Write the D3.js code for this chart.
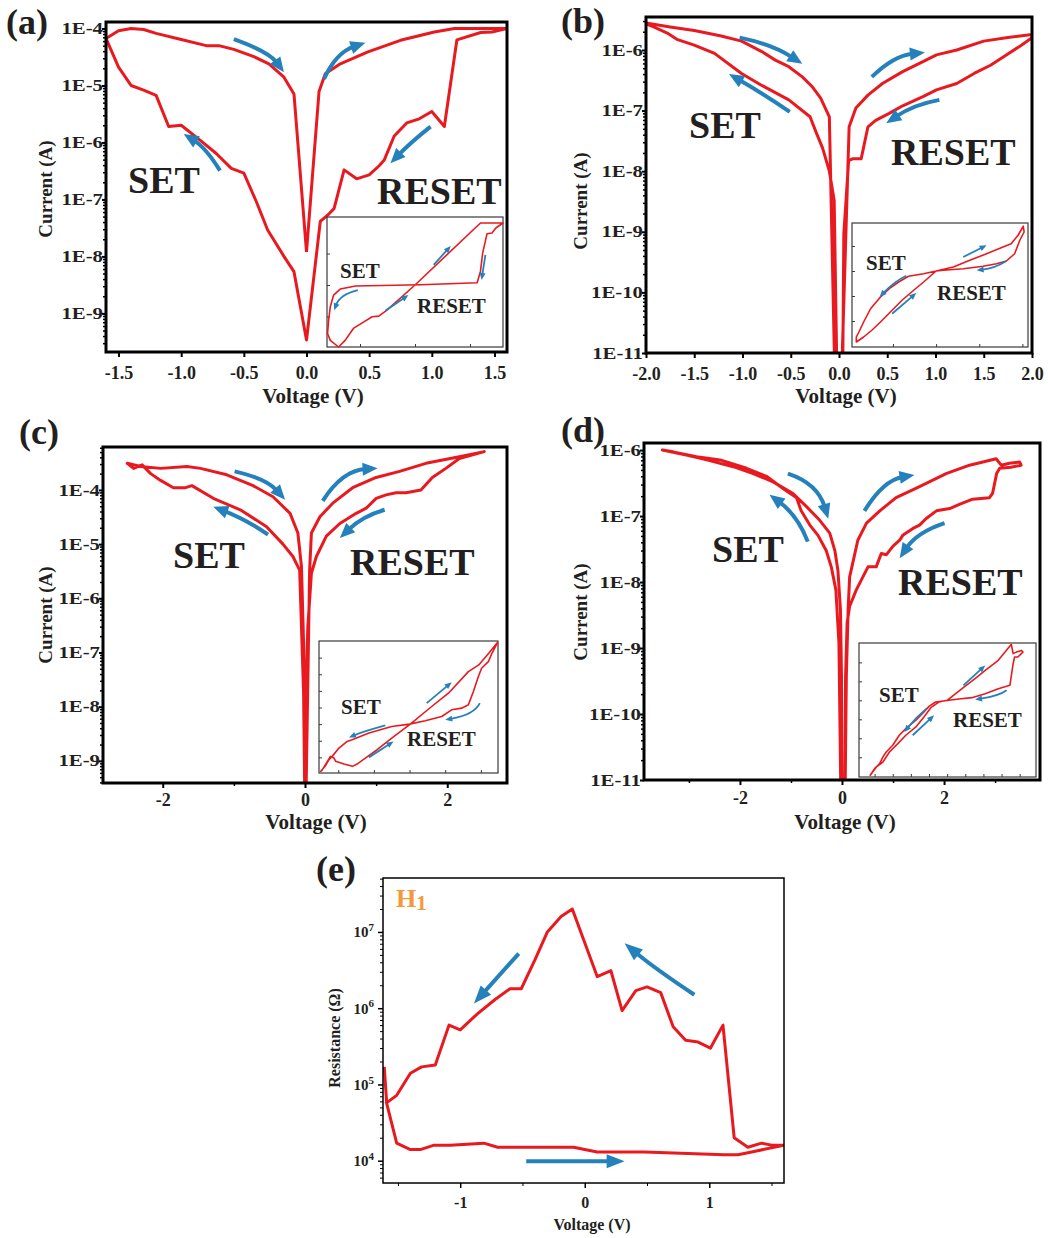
<!DOCTYPE html>
<html>
<head>
<meta charset="utf-8">
<script src="https://cdn.jsdelivr.net/npm/d3@7"></script>
<style>
  body { margin: 0; background: #fff; }
  svg text { font-family: "Liberation Serif", "Times New Roman", serif; font-weight: bold; fill: #231f20; }
</style>
</head>
<body>
<svg id="fig" width="1048" height="1238"></svg>
<script>
// ---- values ----
// (a) I-V loop, log current
let aVolt = [0, 0.1, 0.15, 0.27, 0.49, 0.75, 1.02, 1.18, 1.6,
  1.48, 1.39, 1.2, 1.1, 1.0, 0.9, 0.8, 0.7, 0.62, 0.58, 0.5, 0.4, 0.3, 0.22, 0.18, 0.11, 0,
  -0.1, -0.18, -0.31, -0.4, -0.5, -0.6, -0.72, -0.85, -1.0, -1.1, -1.2, -1.3, -1.4, -1.5, -1.6,
  -1.5, -1.4, -1.3, -1.2, -1.0, -0.8, -0.7, -0.58, -0.42, -0.3, -0.18, -0.1, 0];
let aCurr = [1.2e-8, 7.8e-6, 1.6e-5, 2.4e-5, 3.9e-5, 6.2e-5, 8.7e-5, 1.0e-4, 1.0e-4,
  8.7e-5, 8.5e-5, 6.3e-5, 1.9e-6, 3.5e-6, 2.6e-6, 2.2e-6, 1.3e-6, 4.9e-7, 3.9e-7, 2.7e-7, 2.3e-7, 3.3e-7, 6.9e-8, 5.6e-8, 4.1e-8, 3.4e-10,
  5.4e-9, 1.0e-8, 2.9e-8, 9.1e-8, 2.9e-7, 3.5e-7, 6.4e-7, 1.1e-6, 2.0e-6, 1.9e-6, 6.7e-6, 8.3e-6, 1.0e-5, 2.1e-5, 6.7e-5,
  9.1e-5, 1.0e-4, 9.6e-5, 8.2e-5, 6.4e-5, 5.0e-5, 5.0e-5, 4.3e-5, 3.2e-5, 2.4e-5, 1.4e-5, 7.1e-6, 1.2e-8];
let aXTicks = [-1.5, -1.0, -0.5, 0, 0.5, 1.0, 1.5];
let aYTicks = [1e-9, 1e-8, 1e-7, 1e-6, 1e-5, 1e-4];
let aArrows = [
  [[-0.58, 6.5e-5], [-0.34, 3.6e-5], [-0.18, 1.7e-5]],
  [[0.14, 1.3e-5], [0.27, 3.2e-5], [0.47, 5.6e-5]],
  [[0.99, 1.9e-6], [0.83, 9.5e-7], [0.67, 4.3e-7]],
  [[-0.69, 3.2e-7], [-0.82, 7.4e-7], [-0.98, 1.4e-6]]];
// (a) inset, linear units
let aInVolt = [0, 1.19, 1.6, 1.47, 1.40, 1.31, 1.23, 1.19, 1.13, 0.10, -1.08, -1.36, -1.48, -1.54, -1.57, -1.59, -1.54, -1.39, -1.27, -1.12, -0.93, -0.78, -0.66, -0.51, 0];
let aInCurr = [0, 1.97, 1.97, 1.81, 1.65, 1.63, 1.01, 0.43, 0.07, 0.01, -0.03, -0.13, -0.32, -0.69, -1.12, -1.54, -1.76, -1.97, -1.76, -1.38, -1.17, -1.01, -0.99, -0.80, 0];
let aInArrows = [
  [[0.34, 0.64], [0.65, 1.24]],
  [[-0.54, -0.82], [-0.12, -0.32]],
  [[1.28, 0.96], [1.21, 0.16]],
  [[-1.04, -0.16], [-1.31, -0.39], [-1.47, -0.80]]];

// (b)
let bVolt = [0.015, 0.105, 0.175, 0.30, 0.45, 0.66, 0.87, 1.01, 1.22, 1.50, 1.75, 2.0,
  2.0, 1.89, 1.71, 1.57, 1.40, 1.22, 1.01, 0.87, 0.66, 0.52, 0.38, 0.30, 0.23, 0.14, 0.10, 0.05, 0.035,
  -0.015, -0.05, -0.10, -0.17, -0.24, -0.30, -0.52, -0.8, -1.01, -1.29, -1.5, -1.68, -1.78, -1.92, -2.0,
  -2.0, -1.75, -1.5, -1.22, -1.01, -0.80, -0.66, -0.52, -0.38, -0.28, -0.19, -0.10, -0.035];
let bCurr = [1e-12, 5.4e-8, 1.1e-7, 1.8e-7, 2.8e-7, 4.4e-7, 6.4e-7, 8.3e-7, 1.0e-6, 1.4e-6, 1.6e-6, 1.8e-6,
  1.6e-6, 1.2e-6, 7.8e-7, 5.6e-7, 4.1e-7, 2.8e-7, 2.2e-7, 1.7e-7, 1.2e-7, 9.0e-8, 6.9e-8, 5.4e-8, 1.6e-8, 1.6e-8, 1.5e-8, 9.3e-10, 1e-12,
  1e-12, 3.3e-9, 1.0e-8, 2.4e-8, 4.5e-8, 7.9e-8, 1.5e-7, 2.6e-7, 4.1e-7, 8.8e-7, 1.2e-6, 1.5e-6, 1.9e-6, 2.4e-6, 2.7e-6,
  2.8e-6, 2.4e-6, 2.1e-6, 1.7e-6, 1.4e-6, 9.4e-7, 6.8e-7, 5.3e-7, 3.6e-7, 2.5e-7, 1.6e-7, 7.9e-8, 1e-12];
let bXTicks = [-2.0, -1.5, -1.0, -0.5, 0, 0.5, 1.0, 1.5, 2.0];
let bYTicks = [1e-11, 1e-10, 1e-9, 1e-8, 1e-7, 1e-6];
let bArrows = [
  [[-1.03, 1.6e-6], [-0.70, 1.1e-6], [-0.38, 5.9e-7]],
  [[0.34, 3.6e-7], [0.59, 6.8e-7], [0.89, 9.1e-7]],
  [[1.04, 1.5e-7], [0.77, 1.1e-7], [0.49, 6.2e-8]],
  [[-0.51, 9.5e-8], [-0.80, 1.9e-7], [-1.14, 4.0e-7]]];
let bInVolt = [0, 0.4, 0.78, 1.17, 1.55, 1.74, 1.9, 2.02, 2.04, 1.94, 1.82, 1.63, 1.4, 1.09, 0.63, 0.17, 0,
  -0.29, -0.64, -0.87, -1.06, -1.29, -1.52, -1.68, -1.79, -1.85, -1.85, -1.68, -1.49, -1.29, -1.02, -0.79, -0.52, -0.29, 0];
let bInCurr = [0, 0.16, 0.43, 0.69, 0.96, 1.09, 1.43, 1.79, 1.56, 1.23, 0.69, 0.4, 0.29, 0.19, 0.09, 0.03, 0,
  -0.11, -0.21, -0.44, -0.67, -1.04, -1.51, -2.04, -2.44, -2.64, -2.84, -2.64, -2.37, -2.04, -1.57, -1.17, -0.77, -0.44, 0];
let bInArrows = [
  [[0.63, 0.56], [1.17, 1.03]],
  [[1.63, 0.4], [1.32, 0.16], [0.94, 0.03]],
  [[-0.69, -0.19], [-0.98, -0.51], [-1.31, -1.04]],
  [[-1.02, -1.71], [-0.46, -0.88]]];

// (c)
let cVolt = [0.01, 0.065, 0.09, 0.21, 0.39, 0.67, 1.0, 1.33, 1.70, 2.17, 2.52,
  2.17, 1.98, 1.79, 1.63, 1.42, 1.28, 1.14, 1.0, 0.86, 0.72, 0.49, 0.30, 0.16, 0.09, 0.04, 0.01, 0,
  -0.02, -0.075, -0.17, -0.31, -0.54, -0.91, -1.29, -1.59, -1.68, -1.85, -2.03, -2.17, -2.29, -2.41, -2.5,
  -2.31, -2.03, -1.66, -1.47, -1.10, -0.73, -0.45, -0.21, -0.10, -0.05, -0.02, 0];
let cCurr = [1e-10, 3.3e-6, 1.6e-5, 3.2e-5, 5.7e-5, 1.1e-4, 1.7e-4, 2.2e-4, 3.1e-4, 4.1e-4, 5.1e-4,
  3.8e-4, 2.5e-4, 1.7e-4, 1.0e-4, 8.9e-5, 8.9e-5, 8.1e-5, 7.0e-5, 4.6e-5, 3.7e-5, 2.4e-5, 1.4e-5, 5.9e-6, 2.9e-6, 3.0e-7, 1.8e-8, 1e-10,
  1.8e-8, 3.3e-6, 5.9e-6, 1.0e-5, 2.1e-5, 4.3e-5, 7.0e-5, 1.2e-4, 1.1e-4, 1.1e-4, 1.5e-4, 2.0e-4, 2.9e-4, 2.5e-4, 3.1e-4,
  2.7e-4, 2.5e-4, 2.7e-4, 2.5e-4, 1.9e-4, 1.2e-4, 7.5e-5, 3.7e-5, 1.6e-5, 3.9e-6, 1.5e-7, 1e-10];
let cXTicks = [-2, 0, 2];
let cXMinor = [-1, 1];
let cYTicks = [1e-9, 1e-8, 1e-7, 1e-6, 1e-5, 1e-4];
let cArrows = [
  [[-0.99, 2.2e-4], [-0.59, 1.4e-4], [-0.28, 6.6e-5]],
  [[0.25, 6.3e-5], [0.58, 1.7e-4], [1.02, 2.5e-4]],
  [[1.12, 4.3e-5], [0.81, 2.8e-5], [0.49, 1.3e-5]],
  [[-0.52, 1.5e-5], [-0.87, 2.8e-5], [-1.29, 4.9e-5]]];
let cInVolt = [0.02, 0.62, 1.09, 1.65, 1.94, 2.22, 2.47, 2.31, 2.21, 2.02, 1.93, 1.79, 1.65, 1.46, 1.18, 0.9, 0.44, 0,
  -0.5, -1.14, -1.61, -1.75, -1.98, -2.17, -2.26, -2.37, -2.49,
  -2.46, -2.36, -2.22, -2.12, -2.07, -1.84, -1.6, -1.47, -1.24, -0.91, -0.5, 0.02];
let cInCurr = [0, 0.53, 0.93, 1.58, 1.78, 2.13, 2.46, 2.13, 1.88, 1.68, 1.43, 0.98, 0.58, 0.48, 0.43, 0.23, 0.1, 0,
  -0.07, -0.27, -0.47, -0.52, -0.72, -0.97, -1.07, -1.27, -1.42,
  -1.4, -1.22, -0.97, -1.02, -1.12, -1.2, -1.27, -1.2, -1.02, -0.77, -0.42, 0];
let cInArrows = [
  [[0.48, 0.63], [1.18, 1.26]],
  [[1.97, 0.63], [1.65, 0.33], [1.0, 0.13]],
  [[-0.68, -0.04], [-1.24, -0.22], [-1.70, -0.40]],
  [[-1.14, -1.0], [-0.45, -0.52]]];

// (d)
let dVolt = [0.05, 0.085, 0.12, 0.15, 0.31, 0.48, 0.74, 1.06, 1.52, 2.04, 2.50, 3.02, 3.12, 3.28, 3.48, 3.51, 3.31, 3.09,
  3.03, 2.95, 2.89, 2.56, 2.30, 2.11, 1.85, 1.65, 1.52, 1.39, 1.19, 1.13, 1.0, 0.87, 0.77, 0.67, 0.51, 0.41, 0.28, 0.15, 0.10, 0.07, 0.045,
  -0.01, -0.06, -0.12, -0.21, -0.31, -0.47, -0.63, -0.80, -0.89, -1.15, -1.48, -1.87, -2.39, -2.85, -3.31, -3.52,
  -3.05, -2.65, -2.13, -1.74, -1.35, -0.96, -0.70, -0.44, -0.24, -0.14, -0.08, -0.03, -0.01, 0.0];
let dCurr = [1e-12, 3.7e-10, 3.8e-9, 1.2e-8, 4.3e-8, 7.8e-8, 1.2e-7, 1.9e-7, 2.8e-7, 4.4e-7, 5.9e-7, 7.4e-7, 5.9e-7, 6.3e-7, 6.6e-7, 5.9e-7, 5.5e-7, 5.3e-7,
  4.4e-7, 2.2e-7, 1.9e-7, 1.8e-7, 1.5e-7, 1.3e-7, 1.2e-7, 9.2e-8, 7.3e-8, 6.5e-8, 5.1e-8, 4.3e-8, 3.5e-8, 2.6e-8, 2.7e-8, 1.7e-8, 1.7e-8, 1.2e-8, 7.6e-9, 4.3e-9, 2.4e-9, 3.7e-10, 1e-12,
  1e-12, 1.2e-9, 7.6e-9, 1.7e-8, 3.0e-8, 5.1e-8, 7.3e-8, 1.2e-7, 1.9e-7, 2.6e-7, 4.0e-7, 5.3e-7, 7.1e-7, 7.9e-7, 9.4e-7, 1.0e-6,
  8.4e-7, 7.1e-7, 5.6e-7, 4.4e-7, 3.3e-7, 2.2e-7, 1.4e-7, 8.7e-8, 5.5e-8, 3.0e-8, 1.5e-8, 3.8e-9, 3.7e-10, 1e-12];
let dXTicks = [-2, 0, 2];
let dXMinor = [-3, -1, 1, 3];
let dYTicks = [1e-11, 1e-10, 1e-9, 1e-8, 1e-7, 1e-6];
let dArrows = [
  [[-1.06, 4.4e-7], [-0.57, 2.5e-7], [-0.27, 9.1e-8]],
  [[0.44, 1.2e-7], [0.87, 2.8e-7], [1.42, 4.2e-7]],
  [[2.01, 7.8e-8], [1.52, 4.9e-8], [1.13, 2.3e-8]],
  [[-0.67, 4.1e-8], [-0.96, 9.8e-8], [-1.42, 2.1e-7]]];
let dInVolt = [0, 0.41, 0.77, 1.05, 1.41, 1.77, 1.82, 1.91, 2.05, 2.09, 1.95, 1.86, 1.82, 1.73, 1.41, 1.05, 0.68, 0.32, 0.05,
  -0.32, -0.5, -0.64, -0.86, -1.14, -1.32, -1.5, -1.68, -1.77, -1.86, -2.0, -2.12,
  -1.95, -1.77, -1.59, -1.36, -1.14, -0.86, -0.64, -0.45, -0.23, 0];
let dInCurr = [0, 0.61, 1.14, 1.58, 2.11, 2.95, 2.46, 2.54, 2.63, 2.54, 2.28, 2.28, 1.93, 0.79, 0.61, 0.35, 0.14, 0.07, 0,
  -0.09, -0.32, -0.61, -1.05, -1.49, -1.84, -2.37, -2.72, -2.98, -3.33, -3.6, -3.95,
  -3.51, -3.25, -2.72, -2.28, -1.84, -1.4, -0.88, -0.39, -0.09, 0];
let dInArrows = [
  [[0.45, 0.79], [1.05, 1.84]],
  [[1.64, 0.53], [1.32, 0.26], [0.77, 0.04]],
  [[-0.57, -0.44], [-0.86, -0.96], [-1.18, -1.67]],
  [[-0.95, -1.84], [-0.36, -0.79]]];

// (e) resistance loop
let eVolt = [-1.61, -1.59, -1.51, -1.40, -1.32, -1.21, -1.08, -0.81, -0.70, -0.09, 0.10, 0.48, 1.12, 1.23, 1.34, 1.60,
  1.50, 1.42, 1.31, 1.20, 1.11, 1.01, 0.91, 0.81, 0.71, 0.61, 0.50, 0.41, 0.30, 0.21, 0.10, -0.10, -0.19, -0.30,
  -0.40, -0.51, -0.60, -0.72, -0.86, -1.0, -1.09, -1.20, -1.31, -1.40, -1.51, -1.60];
let eRes = [1.7e5, 5.6e4, 1.7e4, 1.4e4, 1.4e4, 1.6e4, 1.6e4, 1.7e4, 1.5e4, 1.5e4, 1.3e4, 1.3e4, 1.2e4, 1.2e4, 1.3e4, 1.6e4,
  1.6e4, 1.7e4, 1.5e4, 2.0e4, 6.0e5, 3.0e5, 3.6e5, 3.8e5, 5.7e5, 1.6e6, 1.9e6, 1.7e6, 9.3e5, 3.1e6, 2.6e6, 2.0e7, 1.6e7, 1.0e7,
  4.3e6, 1.8e6, 1.8e6, 1.3e6, 8.5e5, 5.2e5, 6.0e5, 1.8e5, 1.7e5, 1.4e5, 7.2e4, 5.6e4];
let eXTicks = [-1, 0, 1];
let eXMinor = [-1.5, -0.5, 0.5, 1.5];
let eYTicks = [1e4, 1e5, 1e6, 1e7];
let eArrows = [
  [[-0.53, 5.2e6], [-0.89, 1.15e6]],
  [[0.88, 1.5e6], [0.58, 3.3e6], [0.32, 7.1e6]],
  [[-0.47, 9.8e3], [0.32, 9.8e3]]];

// ---- drawing ----
let svg = d3.select("#fig");
let red = "#e8191f";
let blue = "#2581bc";

// curved arrow through 2 or 3 data points, head at the last one
let drawArrow = (g, pts, x, y, w, head, half) => {
  let p = pts.map(d => [x(d[0]), y(d[1])]);
  let end = p[p.length - 1];
  let ctrl = p.length === 3
    ? [2 * p[1][0] - (p[0][0] + end[0]) / 2, 2 * p[1][1] - (p[0][1] + end[1]) / 2]
    : [(p[0][0] + end[0]) / 2, (p[0][1] + end[1]) / 2];
  let dx = end[0] - ctrl[0], dy = end[1] - ctrl[1];
  let len = Math.hypot(dx, dy); dx /= len; dy /= len;
  let sx = end[0] - dx * head * 0.8, sy = end[1] - dy * head * 0.8;
  let bx = end[0] - dx * head, by = end[1] - dy * head;
  let path = d3.path();
  path.moveTo(p[0][0], p[0][1]);
  path.quadraticCurveTo(ctrl[0], ctrl[1], sx, sy);
  g.append("path").attr("d", path.toString())
    .attr("fill", "none").attr("stroke", blue).attr("stroke-width", w);
  g.append("path")
    .attr("d", `M${end[0]},${end[1]}L${bx - dy * half},${by + dx * half}L${bx + dy * half},${by - dx * half}Z`)
    .attr("fill", blue);
};

let logMinors = (dom) => {
  let out = [];
  let lo = Math.floor(Math.log10(dom[0])), hi = Math.ceil(Math.log10(dom[1]));
  for (let e = lo; e < hi; e++) {
    for (let k = 2; k < 10; k++) {
      let v = k * Math.pow(10, e);
      if (v >= dom[0] && v <= dom[1]) out.push(v);
    }
  }
  return out;
};

let drawInset = (g, q) => {
  let x = d3.scaleLinear().domain(q.xDom).range([q.left, q.right]);
  let y = d3.scaleLinear().domain(q.yDom).range([q.bottom, q.top]);
  g.append("rect").attr("x", q.left).attr("y", q.top)
    .attr("width", q.right - q.left).attr("height", q.bottom - q.top)
    .attr("fill", "#fff").attr("stroke", "#3a3a3a").attr("stroke-width", 1.2);
  g.append("g").attr("transform", `translate(0,${q.bottom})`)
    .call(d3.axisBottom(x).tickValues(q.xTicks).tickFormat("").tickSize(-3))
    .call(a => a.select(".domain").remove())
    .selectAll("line").attr("stroke", "#3a3a3a");
  g.append("g").attr("transform", `translate(${q.left},0)`)
    .call(d3.axisLeft(y).tickValues(q.yTicks).tickFormat("").tickSize(-3))
    .call(a => a.select(".domain").remove())
    .selectAll("line").attr("stroke", "#3a3a3a");
  g.append("path").datum(d3.zip(q.volt, q.curr))
    .attr("fill", "none").attr("stroke", red).attr("stroke-width", 1.6).attr("stroke-linejoin", "round")
    .attr("d", d3.line().x(d => x(d[0])).y(d => y(d[1])));
  q.arrows.forEach(a => drawArrow(g, a, x, y, 1.8, 7, 3));
  g.append("text").attr("x", q.setPos[0]).attr("y", q.setPos[1]).attr("font-size", 21).text("SET");
  g.append("text").attr("x", q.resetPos[0]).attr("y", q.resetPos[1]).attr("font-size", 21).text("RESET");
};

let drawIV = (p) => {
  let g = svg.append("g");
  let x = d3.scaleLinear().domain(p.xDom).range([p.left, p.right]);
  let y = d3.scaleLog().domain(p.yDom).range([p.bottom, p.top]);
  let clipId = "clip-" + p.name;
  g.append("clipPath").attr("id", clipId).append("rect")
    .attr("x", p.left).attr("y", p.top).attr("width", p.right - p.left).attr("height", p.bottom - p.top);

  g.append("path").datum(d3.zip(p.volt, p.curr))
    .attr("clip-path", `url(#${clipId})`)
    .attr("fill", "none").attr("stroke", red).attr("stroke-width", 3).attr("stroke-linejoin", "round")
    .attr("d", d3.line().x(d => x(d[0])).y(d => y(d[1])));

  g.append("g").attr("transform", `translate(${p.left},0)`)
    .call(d3.axisLeft(y).tickValues(logMinors(p.yDom)).tickFormat("").tickSize(3))
    .call(a => a.select(".domain").remove())
    .selectAll("line").attr("stroke-width", 1.5);
  let ya = g.append("g").attr("transform", `translate(${p.left},0)`)
    .call(d3.axisLeft(y).tickValues(p.yTicks).tickFormat(d => "1E" + Math.round(Math.log10(d))).tickSize(4).tickPadding(-1));
  ya.select(".domain").remove();
  ya.selectAll("line").attr("stroke-width", 2);
  ya.selectAll("text").attr("font-size", 16).each(function () {
    let w = this.getComputedTextLength();
    d3.select(this).attr("textLength", w * 1.3).attr("lengthAdjust", "spacingAndGlyphs");
  });

  let xa = g.append("g").attr("transform", `translate(0,${p.bottom})`)
    .call(d3.axisBottom(x).tickValues(p.xTicks).tickFormat(p.xFmt).tickSize(5).tickPadding(p.xPad));
  xa.select(".domain").remove();
  xa.selectAll("line").attr("stroke-width", 2);
  xa.selectAll("text").attr("font-size", 18);
  if (p.xMinor) {
    g.append("g").attr("transform", `translate(0,${p.bottom})`)
      .call(d3.axisBottom(x).tickValues(p.xMinor).tickFormat("").tickSize(3))
      .call(a => a.select(".domain").remove())
      .selectAll("line").attr("stroke-width", 1.5);
  }

  g.append("rect").attr("x", p.left).attr("y", p.top)
    .attr("width", p.right - p.left).attr("height", p.bottom - p.top)
    .attr("fill", "none").attr("stroke", "#000").attr("stroke-width", 3);

  g.append("text").attr("x", p.xTitle[0]).attr("y", p.xTitle[1]).attr("text-anchor", "middle")
    .attr("font-size", 21).text("Voltage (V)");
  g.append("text").attr("transform", `translate(${p.yTitle[0]},${p.yTitle[1]}) rotate(-90)`)
    .attr("text-anchor", "middle").attr("font-size", 19).text("Current (A)");
  g.append("text").attr("x", p.tag[0]).attr("y", p.tag[1]).attr("font-size", 36).text(p.tagText);
  g.append("text").attr("x", p.setPos[0]).attr("y", p.setPos[1]).attr("font-size", 38).text("SET");
  g.append("text").attr("x", p.resetPos[0]).attr("y", p.resetPos[1]).attr("font-size", 38).text("RESET");

  p.arrows.forEach(a => drawArrow(g, a, x, y, 4, 15, 6.5));
  drawInset(g, p.inset);
};

let fmt1 = d => d.toFixed(1);
let fmt0 = d => String(d);

drawIV({
  name: "a", tagText: "(a)", tag: [6, 34],
  left: 106, right: 507, top: 22, bottom: 352,
  xDom: [-1.6, 1.6], yDom: [2.1e-10, 1.3e-4],
  volt: aVolt, curr: aCurr, xTicks: aXTicks, yTicks: aYTicks, xFmt: fmt1, xPad: 9,
  xTitle: [313, 403], yTitle: [52, 189], setPos: [128, 193], resetPos: [377, 204],
  arrows: aArrows,
  inset: { left: 327, right: 503, top: 217, bottom: 347, xDom: [-1.6, 1.6], yDom: [-1.97, 2.16],
    xTicks: [-1, 0, 1], yTicks: [-1, 0, 1], volt: aInVolt, curr: aInCurr, arrows: aInArrows,
    setPos: [340, 278], resetPos: [417, 313] }
});

drawIV({
  name: "b", tagText: "(b)", tag: [561, 33],
  left: 646, right: 1032, top: 17, bottom: 353,
  xDom: [-2, 2], yDom: [1e-11, 3.5e-6],
  volt: bVolt, curr: bCurr, xTicks: bXTicks, yTicks: bYTicks, xFmt: fmt1, xPad: 9,
  xTitle: [846, 403], yTitle: [587, 201], setPos: [689, 138], resetPos: [891, 165],
  arrows: bArrows,
  inset: { left: 852, right: 1028, top: 223, bottom: 347, xDom: [-1.95, 2.13], yDom: [-3.04, 1.92],
    xTicks: [-1, 0, 1, 2], yTicks: [-2, -1, 0, 1], volt: bInVolt, curr: bInCurr, arrows: bInArrows,
    setPos: [866, 270], resetPos: [937, 300] }
});

drawIV({
  name: "c", tagText: "(c)", tag: [19, 444],
  left: 103, right: 507, top: 447, bottom: 783,
  xDom: [-2.84, 2.84], yDom: [3.9e-10, 6.2e-4],
  volt: cVolt, curr: cCurr, xTicks: cXTicks, xMinor: cXMinor, yTicks: cYTicks, xFmt: fmt0, xPad: 5,
  xTitle: [316, 829], yTitle: [52, 615], setPos: [173, 568], resetPos: [350, 575],
  arrows: cArrows,
  inset: { left: 319, right: 498, top: 641, bottom: 773, xDom: [-2.54, 2.48], yDom: [-1.47, 2.5],
    xTicks: [-2, -1, 0, 1, 2], yTicks: [-1, -0.5, 0, 0.5, 1, 1.5, 2], volt: cInVolt, curr: cInCurr, arrows: cInArrows,
    setPos: [341, 714], resetPos: [407, 746] }
});

drawIV({
  name: "d", tagText: "(d)", tag: [561, 442],
  left: 644, right: 1040, top: 443, bottom: 780,
  xDom: [-3.88, 3.88], yDom: [1e-11, 1.28e-6],
  volt: dVolt, curr: dCurr, xTicks: dXTicks, xMinor: dXMinor, yTicks: dYTicks, xFmt: fmt0, xPad: 6,
  xTitle: [845, 829], yTitle: [587, 612], setPos: [712, 562], resetPos: [898, 595],
  arrows: dArrows,
  inset: { left: 859, right: 1036, top: 643, bottom: 777, xDom: [-2.43, 2.45], yDom: [-4.04, 3.02],
    xTicks: [-2, -1.5, -1, -0.5, 0, 0.5, 1, 1.5, 2], yTicks: [-3, -2, -1, 0, 1, 2], volt: dInVolt, curr: dInCurr, arrows: dInArrows,
    setPos: [879, 702], resetPos: [953, 727] }
});

// (e) resistance panel
let drawR = () => {
  let g = svg.append("g");
  let left = 383, right = 784, top = 878, bottom = 1183;
  let x = d3.scaleLinear().domain([-1.62, 1.6]).range([left, right]);
  let y = d3.scaleLog().domain([5.1e3, 5.1e7]).range([bottom, top]);
  g.append("clipPath").attr("id", "clip-e").append("rect")
    .attr("x", left).attr("y", top).attr("width", right - left).attr("height", bottom - top);
  g.append("path").datum(d3.zip(eVolt, eRes))
    .attr("clip-path", "url(#clip-e)")
    .attr("fill", "none").attr("stroke", red).attr("stroke-width", 3).attr("stroke-linejoin", "round")
    .attr("d", d3.line().x(d => x(d[0])).y(d => y(d[1])));

  g.append("g").attr("transform", `translate(${left},0)`)
    .call(d3.axisLeft(y).tickValues(logMinors(y.domain())).tickFormat("").tickSize(3))
    .call(a => a.select(".domain").remove());
  let ya = g.append("g").attr("transform", `translate(${left},0)`)
    .call(d3.axisLeft(y).tickValues(eYTicks).tickFormat("").tickSize(5).tickPadding(4));
  ya.select(".domain").remove();
  ya.selectAll("line").attr("stroke-width", 1.5);
  ya.selectAll("text").attr("font-size", 15).each(function (d) {
    let t = d3.select(this);
    t.append("tspan").text("10");
    t.append("tspan").attr("dy", "-0.55em").attr("font-size", 11).text(Math.round(Math.log10(d)));
  });

  let xa = g.append("g").attr("transform", `translate(0,${bottom})`)
    .call(d3.axisBottom(x).tickValues(eXTicks).tickFormat(fmt0).tickSize(5).tickPadding(9));
  xa.select(".domain").remove();
  xa.selectAll("line").attr("stroke-width", 1.5);
  xa.selectAll("text").attr("font-size", 16);
  g.append("g").attr("transform", `translate(0,${bottom})`)
    .call(d3.axisBottom(x).tickValues(eXMinor).tickFormat("").tickSize(3))
    .call(a => a.select(".domain").remove());

  g.append("rect").attr("x", left).attr("y", top).attr("width", right - left).attr("height", bottom - top)
    .attr("fill", "none").attr("stroke", "#000").attr("stroke-width", 1.5);

  g.append("text").attr("x", 592).attr("y", 1230).attr("text-anchor", "middle").attr("font-size", 16).text("Voltage (V)");
  g.append("text").attr("transform", "translate(340,1038) rotate(-90)").attr("text-anchor", "middle")
    .attr("font-size", 16).text("Resistance (Ω)");
  g.append("text").attr("x", 316).attr("y", 881).attr("font-size", 36).text("(e)");
  let h = g.append("text").attr("x", 396).attr("y", 907).attr("font-size", 26).style("fill", "#f5973b");
  h.append("tspan").text("H");
  h.append("tspan").attr("dy", 3).attr("font-size", 21).text("1");

  eArrows.forEach(a => drawArrow(g, a, x, y, 4, 18, 7));
};
drawR();
</script>
</body>
</html>
